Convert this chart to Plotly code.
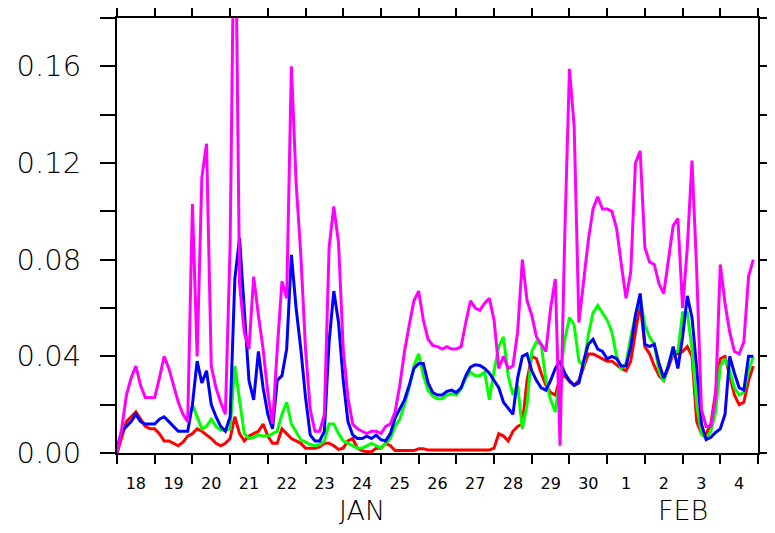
import plotly.graph_objects as go

# 3-hourly samples starting Jan 18 00:00 (360-day calendar: Jan has 30 days)
hours = list(range(0, 408, 3))

day_labels = ["18", "19", "20", "21", "22", "23", "24", "25", "26", "27",
              "28", "29", "30", "1", "2", "3", "4"]
month_labels = ["JAN", "FEB"]
month_centers = [6.5, 15.0]   # days since Jan 18 00:00
month_boundary = [13]         # Feb 1 00:00

red = [
    0.0, 0.006, 0.013, 0.015, 0.017, 0.014, 0.011, 0.010,
    0.010, 0.008, 0.005, 0.005, 0.004, 0.003, 0.0045, 0.007,
    0.008, 0.010, 0.009, 0.0075, 0.006, 0.004, 0.003, 0.004,
    0.006, 0.015, 0.008, 0.005, 0.007, 0.008, 0.009, 0.012,
    0.007, 0.004, 0.004, 0.010, 0.008, 0.006, 0.005, 0.004,
    0.002, 0.002, 0.002, 0.0025, 0.004, 0.004, 0.003, 0.0015,
    0.002, 0.005, 0.006, 0.002, 0.001, 0.0005, 0.0005, 0.002,
    0.002, 0.004, 0.003, 0.001, 0.001, 0.001, 0.001, 0.001,
    0.0018, 0.0018, 0.0012, 0.0012, 0.0012, 0.0012, 0.0012, 0.0012,
    0.0012, 0.0012, 0.0012, 0.0012, 0.0012, 0.0012, 0.0012, 0.0012,
    0.002, 0.008, 0.007, 0.005, 0.009, 0.011, 0.012, 0.030,
    0.040, 0.039, 0.033, 0.028, 0.025, 0.024, 0.031, 0.032,
    0.0295, 0.028, 0.030, 0.036, 0.041, 0.041, 0.040, 0.039,
    0.038, 0.038, 0.0365, 0.035, 0.034, 0.038, 0.050, 0.062,
    0.044, 0.041, 0.036, 0.032, 0.030, 0.036, 0.041, 0.041,
    0.042, 0.044, 0.040, 0.013, 0.008, 0.008, 0.012, 0.025,
    0.039, 0.040, 0.032, 0.024, 0.020, 0.021, 0.030, 0.036,
]

green = [
    None, None, None, None, None, None, None, None,
    None, None, None, None, None, None, None, None,
    0.020, 0.015, 0.010, 0.011, 0.014, 0.011, 0.0095, 0.0095,
    0.010, 0.036, 0.022, 0.008, 0.006, 0.0065, 0.0075, 0.007,
    0.007, 0.008, 0.009, 0.016, 0.021, 0.012, 0.009, 0.0055,
    0.0045, 0.0035, 0.003, 0.0035, 0.005, 0.012, 0.012, 0.008,
    0.005, 0.004, 0.003, 0.002, 0.002, 0.003, 0.004, 0.003,
    0.002, 0.004, 0.006, 0.011, 0.014, 0.020, 0.027, 0.036,
    0.041, 0.032, 0.026, 0.0235, 0.0225, 0.0225, 0.024, 0.0245,
    0.024, 0.0265, 0.031, 0.0335, 0.032, 0.032, 0.0335, 0.022,
    0.034, 0.044, 0.048, 0.032, 0.024, 0.028, 0.010, 0.020,
    0.042, 0.046, 0.045, 0.030, 0.022, 0.017, 0.032, 0.047,
    0.056, 0.053, 0.038, 0.036, 0.049, 0.058, 0.061, 0.058,
    0.055, 0.050, 0.040, 0.035, 0.037, 0.048, 0.057, 0.064,
    0.053, 0.048, 0.045, 0.034, 0.0295, 0.037, 0.042, 0.042,
    0.058, 0.058, 0.043, 0.020, 0.008, 0.006, 0.009, 0.017,
    0.036, 0.039, 0.034, 0.027, 0.024, 0.025, 0.034, 0.040,
]

blue = [
    0.002, 0.009, 0.011, 0.013, 0.016, 0.013, 0.012, 0.012,
    0.012, 0.014, 0.015, 0.013, 0.011, 0.009, 0.009, 0.009,
    0.020, 0.038, 0.029, 0.034, 0.020, 0.015, 0.011, 0.009,
    0.015, 0.072, 0.089, 0.060, 0.030, 0.022, 0.042, 0.027,
    0.016, 0.010, 0.030, 0.032, 0.043, 0.082, 0.060, 0.043,
    0.023, 0.0075, 0.005, 0.005, 0.009, 0.046, 0.067, 0.054,
    0.030, 0.013, 0.0075, 0.006, 0.006, 0.007, 0.006, 0.0074,
    0.0055, 0.005, 0.008, 0.0145, 0.018, 0.022, 0.028, 0.035,
    0.037, 0.037, 0.029, 0.025, 0.024, 0.024, 0.0255, 0.026,
    0.025, 0.027, 0.032, 0.0355, 0.0365, 0.0362, 0.035, 0.033,
    0.030, 0.027, 0.021, 0.0185, 0.016, 0.031, 0.040, 0.041,
    0.034, 0.030, 0.027, 0.026, 0.030, 0.035, 0.038, 0.033,
    0.030, 0.028, 0.029, 0.038, 0.045, 0.047, 0.043, 0.042,
    0.039, 0.040, 0.039, 0.036, 0.036, 0.044, 0.057, 0.066,
    0.045, 0.044, 0.045, 0.037, 0.031, 0.036, 0.044, 0.035,
    0.048, 0.065, 0.056, 0.035, 0.012, 0.0055, 0.0065, 0.0085,
    0.010, 0.016, 0.040, 0.033, 0.027, 0.026, 0.040, 0.040,
]

magenta = [
    0.0, 0.010, 0.024, 0.031, 0.036, 0.028, 0.023, 0.023,
    0.023, 0.031, 0.040, 0.035, 0.028, 0.021, 0.016, 0.013,
    0.103, 0.040, 0.114, 0.128, 0.036, 0.027, 0.021, 0.016,
    0.086, 0.25, 0.07, 0.05, 0.043, 0.073, 0.057, 0.043,
    0.025, 0.012, 0.043, 0.071, 0.064, 0.160, 0.112, 0.082,
    0.043, 0.018, 0.009, 0.009, 0.016, 0.085, 0.102, 0.087,
    0.043, 0.023, 0.012, 0.010, 0.009, 0.008, 0.009, 0.009,
    0.008, 0.011, 0.012, 0.017, 0.028, 0.042, 0.053, 0.063,
    0.067, 0.055, 0.047, 0.0445, 0.044, 0.043, 0.044, 0.043,
    0.043, 0.044, 0.054, 0.063, 0.060, 0.059, 0.062, 0.064,
    0.055, 0.035, 0.040, 0.035, 0.036, 0.050, 0.080, 0.063,
    0.057, 0.048, 0.045, 0.042, 0.060, 0.072, 0.003, 0.090,
    0.159, 0.135, 0.054, 0.071, 0.088, 0.101, 0.106, 0.101,
    0.101, 0.100, 0.093, 0.078, 0.064, 0.075, 0.120, 0.125,
    0.085, 0.079, 0.078, 0.070, 0.066, 0.080, 0.094, 0.097,
    0.060, 0.085, 0.121, 0.075, 0.018, 0.011, 0.011, 0.023,
    0.078, 0.062, 0.050, 0.042, 0.041, 0.046, 0.073, 0.080,
]

days = [h / 24 for h in hours]

fig = go.Figure()
for vals, col in [(red, "#ff0000"), (green, "#00ff00"),
                  (blue, "#0000ff"), (magenta, "#ff00ff")]:
    fig.add_trace(go.Scatter(x=days, y=vals, mode="lines",
                             line=dict(color=col, width=3),
                             connectgaps=False, showlegend=False))

# invisible trace so the label axis is drawn
fig.add_trace(go.Scatter(x=[0, 17], y=[None, None], xaxis="x2",
                         showlegend=False, hoverinfo="skip"))

# page body has an 8px margin, so the figure is offset by that much
fig.update_layout(
    width=767, height=525, autosize=False,
    margin=dict(l=109, r=17, t=10, b=80, pad=0, autoexpand=False),
    paper_bgcolor="white", plot_bgcolor="white",
    font=dict(family="DejaVu Sans", color="black"),
    xaxis=dict(
        range=[0, 17], showgrid=False, zeroline=False, automargin=False,
        showline=True, linecolor="black", linewidth=2, mirror="ticks",
        tickmode="array", tickvals=month_boundary, ticktext=[""],
        ticks="outside", ticklen=16, tickwidth=2, tickcolor="black",
        minor=dict(tickmode="array", tickvals=list(range(18)),
                   ticks="outside", ticklen=9, tickwidth=2, tickcolor="black"),
    ),
    xaxis2=dict(
        range=[0, 17], overlaying="x", anchor="y", side="bottom",
        showgrid=False, zeroline=False, showline=False, automargin=False,
        tickmode="array", tickvals=[i + 0.5 for i in range(17)],
        ticktext=day_labels, ticks="", ticklabelstandoff=19,
        tickfont=dict(size=16, family="DejaVu Sans", color="black"),
    ),
    yaxis=dict(
        range=[0, 0.18], showgrid=False, zeroline=False, automargin=False,
        showline=True, linecolor="black", linewidth=2, mirror="ticks",
        tickmode="linear", tick0=0, dtick=0.04, tickformat=".2f",
        ticks="outside", ticklen=15, tickwidth=2, tickcolor="black",
        ticklabelstandoff=13,
        tickfont=dict(size=29, family="DejaVu Sans", color="black", weight=200),
        minor=dict(dtick=0.02, tick0=0, ticks="outside", ticklen=15,
                   tickwidth=2, tickcolor="black"),
    ),
)

for lab, xc in zip(month_labels, month_centers):
    fig.add_annotation(x=xc, xref="x", y=-0.133, yref="paper",
                       text=lab, showarrow=False, yanchor="middle",
                       font=dict(size=27, family="DejaVu Sans", color="black",
                                 weight=200))

fig.write_html("out.html")
